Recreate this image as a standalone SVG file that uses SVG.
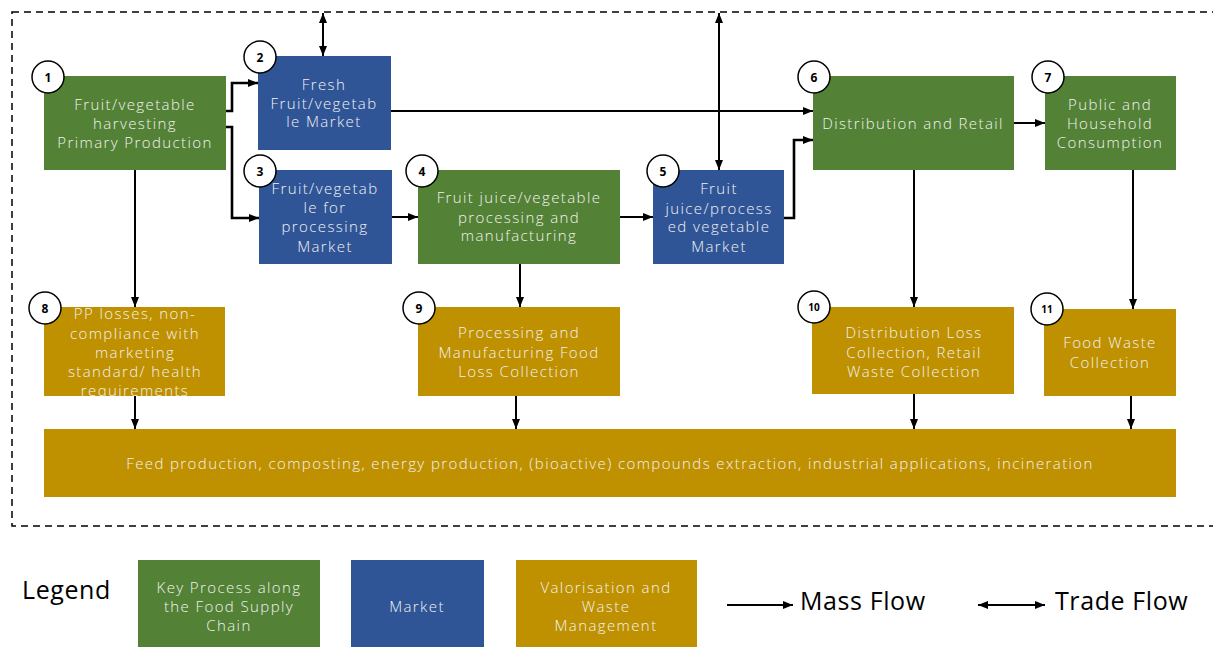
<svg xmlns="http://www.w3.org/2000/svg" width="1213" height="647" viewBox="0 0 1213 647">
<style>
.g{fill:#538135}.b{fill:#2F5597}.y{fill:#BF9000}
.t{font-family:"Open Sans","Liberation Sans",sans-serif;font-size:15px;font-weight:300;letter-spacing:1.4px;fill:#F2F2F2;text-anchor:middle;dominant-baseline:central}
.n{fill:#fff;stroke:#000;stroke-width:1.5}
.nt{font-family:"Open Sans","Liberation Sans",sans-serif;font-size:12px;font-weight:bold;fill:#000;text-anchor:middle;dominant-baseline:central}
.c{fill:none;stroke:#000;stroke-width:2}
.c2{fill:none;stroke:#000;stroke-width:2.6}
.lg{font-family:"Open Sans","Liberation Sans",sans-serif;font-size:25px;letter-spacing:0.6px;fill:#000;dominant-baseline:central}
</style>
<defs>
<marker id="a" markerUnits="userSpaceOnUse" markerWidth="10" markerHeight="8" refX="10" refY="4" orient="auto-start-reverse"><path d="M0,0 L10,4 L0,8 z" fill="#000"/></marker>
</defs>
<rect x="12" y="12" width="1203" height="514" fill="none" stroke="#000" stroke-width="1.5" stroke-dasharray="7,5"/>

<g id="connectors">
<path class="c2" d="M226,111 H232 V83 H258" marker-end="url(#a)"/>
<path class="c2" d="M226,127 H232 V218 H259" marker-end="url(#a)"/>
<path class="c" d="M323,13 V56" marker-start="url(#a)" marker-end="url(#a)"/>
<path class="c" d="M391,111 H813" marker-end="url(#a)"/>
<path class="c" d="M392,217 H418" marker-end="url(#a)"/>
<path class="c" d="M620,217 H653" marker-end="url(#a)"/>
<path class="c2" d="M784,218 H794 V140 H813" marker-end="url(#a)"/>
<path class="c" d="M719,13 V170" marker-start="url(#a)" marker-end="url(#a)"/>
<path class="c" d="M1014,123 H1045" marker-end="url(#a)"/>
<path class="c" d="M135,170 V307" marker-end="url(#a)"/>
<path class="c" d="M520,264 V307" marker-end="url(#a)"/>
<path class="c" d="M914,170 V307" marker-end="url(#a)"/>
<path class="c" d="M1133,170 V309" marker-end="url(#a)"/>
<path class="c" d="M135,396 V429" marker-end="url(#a)"/>
<path class="c" d="M516,396 V429" marker-end="url(#a)"/>
<path class="c" d="M914,394 V429" marker-end="url(#a)"/>
<path class="c" d="M1131,396 V429" marker-end="url(#a)"/>
</g>

<g id="n1"><rect class="g" x="44" y="76" width="182" height="94"/>
<text class="t" x="135" y="104">Fruit/vegetable</text><text class="t" x="135" y="123">harvesting</text><text class="t" x="135" y="142">Primary Production</text>
<circle class="n" cx="48" cy="77" r="16"/><text class="nt" x="48" y="77">1</text></g>

<g id="n2"><rect class="b" x="258" y="56" width="133" height="94"/>
<text class="t" x="324" y="84">Fresh</text><text class="t" x="324" y="103">Fruit/vegetab</text><text class="t" x="324" y="121">le Market</text>
<circle class="n" cx="260" cy="57" r="16"/><text class="nt" x="260" y="57">2</text></g>

<g id="n3"><rect class="b" x="259" y="170" width="133" height="94"/>
<text class="t" x="325" y="188">Fruit/vegetab</text><text class="t" x="325" y="207">le for</text><text class="t" x="325" y="226">processing</text><text class="t" x="325" y="246">Market</text>
<circle class="n" cx="260" cy="171" r="16"/><text class="nt" x="260" y="171">3</text></g>

<g id="n4"><rect class="g" x="418" y="170" width="202" height="94"/>
<text class="t" x="519" y="197">Fruit juice/vegetable</text><text class="t" x="519" y="217">processing and</text><text class="t" x="519" y="235">manufacturing</text>
<circle class="n" cx="422" cy="171" r="16"/><text class="nt" x="422" y="171">4</text></g>

<g id="n5"><rect class="b" x="653" y="170" width="131" height="94"/>
<text class="t" x="719" y="188">Fruit</text><text class="t" x="719" y="208">juice/process</text><text class="t" x="719" y="226">ed vegetable</text><text class="t" x="719" y="246">Market</text>
<circle class="n" cx="663" cy="171" r="16"/><text class="nt" x="663" y="171">5</text></g>

<g id="n6"><rect class="g" x="813" y="76" width="201" height="94"/>
<text class="t" x="913" y="123">Distribution and Retail</text>
<circle class="n" cx="814" cy="77" r="16"/><text class="nt" x="814" y="77">6</text></g>

<g id="n7"><rect class="g" x="1045" y="76" width="131" height="94"/>
<text class="t" x="1110" y="104">Public and</text><text class="t" x="1110" y="123">Household</text><text class="t" x="1110" y="142">Consumption</text>
<circle class="n" cx="1048" cy="77" r="16"/><text class="nt" x="1048" y="77">7</text></g>

<g id="n8"><rect class="y" x="44" y="307" width="181" height="89"/>
<text class="t" x="135" y="313">PP losses, non-</text><text class="t" x="135" y="333">compliance with</text><text class="t" x="135" y="352">marketing</text><text class="t" x="135" y="371">standard/ health</text><text class="t" x="135" y="390">requirements</text>
<circle class="n" cx="45" cy="308" r="16"/><text class="nt" x="45" y="308">8</text></g>

<g id="n9"><rect class="y" x="418" y="307" width="202" height="89"/>
<text class="t" x="519" y="332">Processing and</text><text class="t" x="519" y="352">Manufacturing Food</text><text class="t" x="519" y="371">Loss Collection</text>
<circle class="n" cx="419" cy="308" r="16"/><text class="nt" x="419" y="308">9</text></g>

<g id="n10"><rect class="y" x="812" y="307" width="202" height="87"/>
<text class="t" x="914" y="332">Distribution Loss</text><text class="t" x="914" y="352">Collection, Retail</text><text class="t" x="914" y="371">Waste Collection</text>
<circle class="n" cx="814" cy="307" r="16"/><text class="nt" x="814" y="307" style="font-size:10px">10</text></g>

<g id="n11"><rect class="y" x="1044" y="309" width="132" height="87"/>
<text class="t" x="1110" y="342">Food Waste</text><text class="t" x="1110" y="362">Collection</text>
<circle class="n" cx="1047" cy="309" r="16"/><text class="nt" x="1047" y="309" style="font-size:10px">11</text></g>

<g id="n12"><rect class="y" x="44" y="429" width="1132" height="68"/>
<text class="t" x="610" y="463">Feed production, composting, energy production, (bioactive) compounds extraction, industrial applications, incineration</text></g>

<g id="legend">
<text class="lg" x="22" y="589">Legend</text>
<rect class="g" x="138" y="560" width="182" height="87"/>
<text class="t" x="229" y="587">Key Process along</text><text class="t" x="229" y="606">the Food Supply</text><text class="t" x="229" y="625">Chain</text>
<rect class="b" x="351" y="560" width="133" height="87"/>
<text class="t" x="417" y="606">Market</text>
<rect class="y" x="516" y="560" width="181" height="87"/>
<text class="t" x="606" y="587">Valorisation and</text><text class="t" x="606" y="606">Waste</text><text class="t" x="606" y="625">Management</text>
<path class="c" d="M727,605 H793" marker-end="url(#a)"/>
<text class="lg" x="800" y="600">Mass Flow</text>
<path class="c" d="M978,605 H1045" marker-start="url(#a)" marker-end="url(#a)"/>
<text class="lg" x="1055" y="600">Trade Flow</text>
</g>
</svg>
